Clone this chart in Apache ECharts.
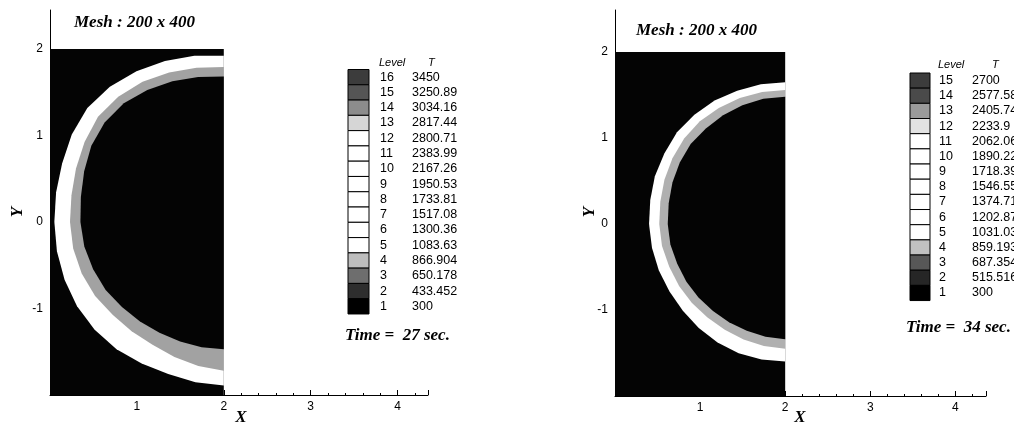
<!DOCTYPE html>
<html><head><meta charset="utf-8">
<script src="https://cdn.jsdelivr.net/npm/echarts@6/dist/echarts.min.js"></script>
<style>html,body{margin:0;padding:0;background:#fff}#c{width:1014px;height:425px}</style>
</head><body><div id="c"></div>
<script>
// ---------- DATA ----------
// contour boundaries: radius from the centre (2, 0) at each angle (degrees, + = upward)
const angles = [90,80,70,60,50,40,30,20,10,0,-10,-20,-30,-40,-50,-60,-70,-80,-90];
const domainX = [0, 2];
const domainY = [-2, 2];
const centre = [2, 0];

// t = 27 s
const leftOuterR = [1.92,1.95,1.98,2.01,2.04,2.05,2.02,1.98,1.96,1.95,1.95,1.95,1.95,1.94,1.92,1.89,1.87,1.88,1.89];
const leftMidR   = [1.79,1.81,1.84,1.87,1.89,1.89,1.85,1.81,1.78,1.77,1.76,1.74,1.71,1.67,1.65,1.64,1.66,1.69,1.72];
const leftInnerR = [1.68,1.70,1.73,1.76,1.79,1.79,1.76,1.71,1.67,1.65,1.63,1.60,1.57,1.53,1.50,1.48,1.47,1.47,1.47];
// t = 34 s
const rightOuterR = [1.65,1.65,1.65,1.66,1.66,1.66,1.64,1.63,1.61,1.60,1.59,1.58,1.57,1.57,1.58,1.59,1.60,1.60,1.60];
const rightMidR   = [1.56,1.56,1.56,1.56,1.56,1.55,1.53,1.51,1.49,1.48,1.47,1.45,1.44,1.43,1.42,1.42,1.43,1.44,1.45];
const rightInnerR = [1.48,1.48,1.47,1.46,1.45,1.45,1.43,1.41,1.39,1.38,1.37,1.35,1.34,1.33,1.32,1.32,1.32,1.33,1.34];

const xTicks = [1, 2, 3, 4];
const yTicks = [2, 1, 0, -1];

const leftLevels = [16,15,14,13,12,11,10,9,8,7,6,5,4,3,2,1];
const leftValues = ['3450','3250.89','3034.16','2817.44','2800.71','2383.99','2167.26','1950.53','1733.81','1517.08','1300.36','1083.63','866.904','650.178','433.452','300'];
const rightLevels = [15,14,13,12,11,10,9,8,7,6,5,4,3,2,1];
const rightValues = ['2700','2577.58','2405.74','2233.9','2062.06','1890.22','1718.39','1546.55','1374.71','1202.87','1031.03','859.193','687.354','515.516','300'];

const meshTitle = 'Mesh : 200 x 400';
const leftTime = 'Time =  27 sec.';
const rightTime = 'Time =  34 sec.';

// ---------- STYLES ----------
const leftColors  = ['#3c3c3c','#555555','#8c8c8c','#d6d6d6','#fff','#fff','#fff','#fff','#fff','#fff','#fff','#fff','#bdbdbd','#6e6e6e','#2e2e2e','#000'];
const rightColors = ['#3c3c3c','#4a4a4a','#9a9a9a','#e2e2e2','#fff','#fff','#fff','#fff','#fff','#fff','#fff','#c0c0c0','#575757','#262626','#000'];
const DARK = '#040404';
const SERIF_BI = 'italic bold 17px "Liberation Serif", "DejaVu Serif", serif';
const LEG_FONT = '12.5px "Liberation Sans", Arial, sans-serif';

function toPts(rs) {
  return angles.map((a, i) => {
    const t = a * Math.PI / 180;
    return [centre[0] - rs[i] * Math.cos(t), centre[1] + rs[i] * Math.sin(t)];
  });
}
const domainPts = [[domainX[0], domainY[0]], [domainX[1], domainY[0]], [domainX[1], domainY[1]], [domainX[0], domainY[1]]];

function poly(g, pts, color, z) {
  return {
    type: 'custom', coordinateSystem: 'cartesian2d', xAxisIndex: g, yAxisIndex: g,
    silent: true, z: z, data: pts, encode: {x: 0, y: 1}, animation: false,
    renderItem: function (params, api) {
      if (params.dataIndex !== 0) return null;
      return {type: 'polygon', shape: {points: pts.map(p => api.coord(p))}, style: {fill: color, stroke: null}};
    }
  };
}

function xAxis(g, max) {
  return {
    type: 'value', gridIndex: g, min: 0, max: max, interval: 1,
    axisLine: {show: true, onZero: false, lineStyle: {color: '#000', width: 1}},
    axisTick: {show: true, inside: true, length: 5, lineStyle: {color: '#000'}},
    minorTick: {show: true, splitNumber: 5, length: 2, lineStyle: {color: '#000'}},
    splitLine: {show: false}, minorSplitLine: {show: false},
    axisLabel: {show: true, margin: 6, color: '#000', fontSize: 12, fontFamily: '"Liberation Sans", Arial, sans-serif',
      showMinLabel: false, showMaxLabel: false,
      formatter: v => xTicks.indexOf(v) >= 0 ? String(v) : ''}
  };
}
function yAxis(g, max) {
  return {
    type: 'value', gridIndex: g, min: -2, max: max, interval: 1,
    axisLine: {show: true, onZero: false, lineStyle: {color: '#000', width: 1}},
    axisTick: {show: true, inside: true, length: 5, lineStyle: {color: '#000'}},
    minorTick: {show: false},
    splitLine: {show: false},
    axisLabel: {show: true, margin: 7, color: '#000', fontSize: 12, fontFamily: '"Liberation Sans", Arial, sans-serif',
      showMinLabel: false, showMaxLabel: false,
      formatter: v => yTicks.indexOf(v) >= 0 ? String(v) : ''}
  };
}

function legend(levels, values, colors, boxX, top, rowH, boxW, levelX, valueX, tX, headY) {
  const els = [];
  levels.forEach((lv, i) => {
    const y = top + i * rowH;
    els.push({type: 'rect', shape: {x: boxX, y: y, width: boxW, height: rowH},
      style: {fill: colors[i], stroke: '#000', lineWidth: 1}});
    els.push({type: 'text', x: levelX, y: y + rowH / 2,
      style: {text: String(lv), font: LEG_FONT, fill: '#000',
        align: 'left', verticalAlign: 'middle', textAlign: 'left', textVerticalAlign: 'middle'}});
    els.push({type: 'text', x: valueX, y: y + rowH / 2,
      style: {text: values[i], font: LEG_FONT, fill: '#000',
        align: 'left', verticalAlign: 'middle', textAlign: 'left', textVerticalAlign: 'middle'}});
  });
  els.push({type: 'text', x: levelX - 1, y: headY,
    style: {text: 'Level', font: 'italic 11px "Liberation Sans", Arial, sans-serif', fill: '#000',
      align: 'left', verticalAlign: 'middle', textAlign: 'left', textVerticalAlign: 'middle'}});
  els.push({type: 'text', x: tX, y: headY,
    style: {text: 'T', font: 'italic 11px "Liberation Sans", Arial, sans-serif', fill: '#000',
      align: 'left', verticalAlign: 'middle', textAlign: 'left', textVerticalAlign: 'middle'}});
  return els;
}
function txt(x, y, s, font, rot) {
  return {type: 'text', x: x, y: y, rotation: rot || 0,
    style: {text: s, font: font, fill: '#000', align: 'left', verticalAlign: 'middle', textAlign: 'left', textVerticalAlign: 'middle'}};
}
function ctxt(x, y, s, font, rot) {
  return {type: 'text', x: x, y: y, rotation: rot || 0,
    style: {text: s, font: font, fill: '#000', align: 'center', verticalAlign: 'middle', textAlign: 'center', textVerticalAlign: 'middle'}};
}

const graphics = []
  .concat(legend(leftLevels, leftValues, leftColors, 348, 69.5, 15.28, 21, 380, 412, 428, 63))
  .concat(legend(rightLevels, rightValues, rightColors, 910, 73, 15.17, 20, 939, 972, 992, 65))
  .concat([
    txt(74, 23, meshTitle, SERIF_BI),
    txt(636, 31, meshTitle, SERIF_BI),
    txt(345, 336, leftTime, SERIF_BI),
    txt(906, 328, rightTime, SERIF_BI),
    ctxt(241, 418, 'X', 'italic bold 17px "Liberation Serif", serif'),
    ctxt(800, 418, 'X', 'italic bold 17px "Liberation Serif", serif'),
    ctxt(18, 212, 'Y', 'italic bold 17px "Liberation Serif", serif', Math.PI / 2),
    ctxt(590, 212, 'Y', 'italic bold 17px "Liberation Serif", serif', Math.PI / 2)
  ]);

const chart = echarts.init(document.getElementById('c'), null, {renderer: 'canvas'});
chart.setOption({
  backgroundColor: '#fff',
  animation: false,
  grid: [
    {left: 50, top: 10, width: 378, height: 385},
    {left: 615, top: 10, width: 371, height: 386}
  ],
  xAxis: [xAxis(0, 4.35), xAxis(1, 4.36)],
  yAxis: [yAxis(0, 2.45), yAxis(1, 2.49)],
  series: [
    poly(0, domainPts, DARK, 2),
    poly(0, toPts(leftOuterR), '#ffffff', 3),
    poly(0, toPts(leftMidR), '#a2a2a2', 4),
    poly(0, toPts(leftInnerR), DARK, 5),
    poly(1, domainPts, DARK, 2),
    poly(1, toPts(rightOuterR), '#ffffff', 3),
    poly(1, toPts(rightMidR), '#b0b0b0', 4),
    poly(1, toPts(rightInnerR), DARK, 5)
  ],
  graphic: {elements: graphics}
});
</script></body></html>
